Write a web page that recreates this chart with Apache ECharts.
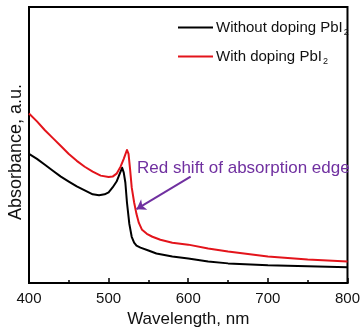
<!DOCTYPE html>
<html>
<head>
<meta charset="utf-8">
<script src="https://cdn.jsdelivr.net/npm/echarts@6/dist/echarts.min.js"></script>
<style>
  html, body { margin: 0; padding: 0; background: #fff; }
  #chart { width: 363px; height: 333px; }
</style>
</head>
<body>
<div id="chart"></div>
<script>
// wavelength (nm) and absorbance (a.u.)
const wlBlack = [400, 410, 420, 430, 440, 450, 460, 470, 480, 488, 495, 500, 505, 510, 514, 517, 519, 521, 523, 526, 529, 532, 535, 540, 550, 560, 580, 600, 625, 650, 700, 750, 800];
const absBlack = [1.31, 1.26, 1.20, 1.14, 1.08, 1.03, 0.98, 0.94, 0.90, 0.89, 0.90, 0.92, 0.97, 1.03, 1.11, 1.17, 1.12, 1.02, 0.82, 0.60, 0.47, 0.41, 0.38, 0.36, 0.33, 0.30, 0.27, 0.25, 0.22, 0.20, 0.18, 0.17, 0.16];

const wlRed = [400, 410, 420, 430, 440, 450, 460, 470, 480, 490, 500, 505, 510, 515, 519, 523, 525, 527, 529, 532, 535, 538, 542, 548, 555, 565, 580, 600, 625, 650, 700, 750, 800];
const absRed = [1.72, 1.64, 1.55, 1.47, 1.39, 1.31, 1.24, 1.18, 1.13, 1.09, 1.075, 1.08, 1.11, 1.18, 1.26, 1.35, 1.31, 1.15, 0.97, 0.82, 0.70, 0.61, 0.54, 0.50, 0.47, 0.44, 0.41, 0.39, 0.35, 0.32, 0.27, 0.24, 0.22];

const seriesNames = ['Without doping PbI', 'With doping PbI'];
const xTicks = [400, 500, 600, 700, 800];

// arrow of the annotation, in data units
const arrowFrom = [603, 1.08];
const arrowTo = [535, 0.75];

const purple = '#7030a0';
const font = 'Liberation Sans, Arial, sans-serif';

const chart = echarts.init(document.getElementById('chart'));

const zip = (xs, ys) => xs.map((x, i) => [x, ys[i]]);

const option = {
  animation: false,
  grid: {
    left: 29,
    right: 11,
    top: 7,
    bottom: 46,
    show: true,
    borderColor: '#000',
    borderWidth: 2
  },
  legend: {
    orient: 'vertical',
    left: 173,
    top: 13,
    itemWidth: 35,
    itemHeight: 2,
    itemGap: 10,
    icon: 'rect',
    data: seriesNames,
    formatter: name => '{t|' + name + '}{s|2}',
    textStyle: {
      color: '#111',
      fontFamily: font,
      padding: [0, 0, 0, -2],
      rich: {
        t: { fontSize: 15, fontFamily: font, lineHeight: 17, color: '#111' },
        s: { fontSize: 9, fontFamily: font, lineHeight: 17, color: '#111', padding: [10, 0, 0, 1] }
      }
    }
  },
  xAxis: {
    type: 'value',
    min: 400,
    max: 800,
    interval: 100,
    name: 'Wavelength, nm',
    nameLocation: 'middle',
    nameGap: 26,
    nameTextStyle: { fontSize: 17, fontFamily: font, color: '#111' },
    axisLine: { show: true, lineStyle: { color: '#000', width: 2 } },
    axisTick: { show: true, inside: true, length: 5, lineStyle: { color: '#000', width: 1.5 } },
    minorTick: { show: true, splitNumber: 2, length: 3, lineStyle: { color: '#000', width: 1.5 } },
    axisLabel: {
      fontSize: 15,
      fontFamily: font,
      color: '#111',
      margin: 8,
      formatter: v => (xTicks.includes(v) ? String(v) : '')
    },
    splitLine: { show: false }
  },
  yAxis: {
    type: 'value',
    min: 0,
    max: 2.8,
    axisLine: { show: false },
    axisTick: { show: false },
    axisLabel: { show: false },
    splitLine: { show: false }
  },
  graphic: [
    {
      type: 'text',
      x: 16,
      y: 152,
      rotation: Math.PI / 2,
      style: {
        text: 'Absorbance, a.u.',
        fontSize: 18,
        fontFamily: font,
        fill: '#111',
        align: 'center',
        verticalAlign: 'middle'
      }
    },
    {
      type: 'text',
      x: 137,
      y: 168,
      style: {
        text: 'Red shift of absorption edge',
        fontSize: 17,
        fontFamily: font,
        fill: purple,
        align: 'left',
        verticalAlign: 'middle'
      }
    }
  ],
  series: [
    {
      name: seriesNames[0],
      type: 'line',
      data: zip(wlBlack, absBlack),
      symbol: 'none',
      smooth: false,
      color: '#000',
      lineStyle: { color: '#000', width: 2, join: 'round' }
    },
    {
      name: seriesNames[1],
      type: 'line',
      data: zip(wlRed, absRed),
      symbol: 'none',
      smooth: false,
      color: '#e3141b',
      lineStyle: { color: '#e3141b', width: 2, join: 'round' },
      markLine: {
        silent: true,
        symbol: ['none', 'arrow'],
        symbolSize: 9,
        label: { show: false },
        lineStyle: { color: purple, width: 2, type: 'solid' },
        data: [[{ coord: arrowFrom }, { coord: arrowTo }]]
      }
    }
  ]
};

chart.setOption(option);
</script>
</body>
</html>
